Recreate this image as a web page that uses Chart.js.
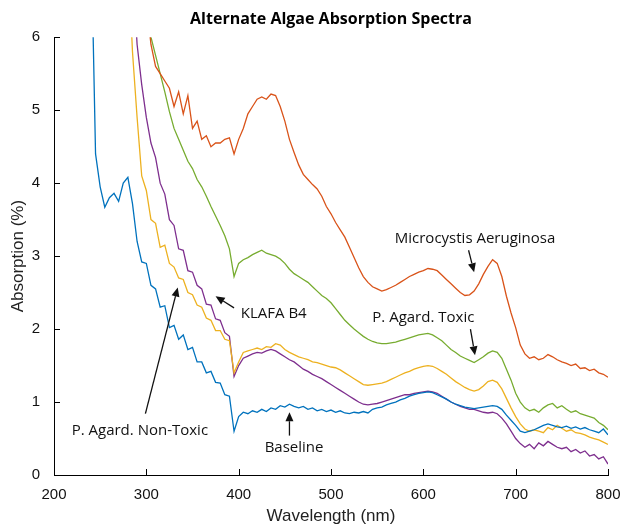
<!DOCTYPE html>
<html>
<head>
<meta charset="utf-8">
<script src="https://cdn.jsdelivr.net/npm/chart.js@4"></script>
<style>
  html, body { margin: 0; padding: 0; background: #fff; }
  #wrap { width: 620px; height: 529px; }
</style>
</head>
<body>
<div id="wrap"><canvas id="spectra"></canvas></div>
<script>
// wavelength grid (nm), 5 nm steps
const wavelengths = [
  240, 245, 250, 255, 260, 265, 270, 275, 280, 285,
  290, 295, 300, 305, 310, 315, 320, 325, 330, 335,
  340, 345, 350, 355, 360, 365, 370, 375, 380, 385,
  390, 395, 400, 405, 410, 415, 420, 425, 430, 435,
  440, 445, 450, 455, 460, 465, 470, 475, 480, 485,
  490, 495, 500, 505, 510, 515, 520, 525, 530, 535,
  540, 545, 550, 555, 560, 565, 570, 575, 580, 585,
  590, 595, 600, 605, 610, 615, 620, 625, 630, 635,
  640, 645, 650, 655, 660, 665, 670, 675, 680, 685,
  690, 695, 700, 705, 710, 715, 720, 725, 730, 735,
  740, 745, 750, 755, 760, 765, 770, 775, 780, 785,
  790, 795, 800
];

// absorption (%), null where the trace is not shown
const baseline = [
  7.5, 4.4, 3.95, 3.67, 3.8, 3.86, 3.75, 4.0, 4.08, 3.72,
  3.2, 2.92, 2.9, 2.6, 2.55, 2.3, 2.32, 2.02, 2.05, 1.86,
  1.92, 1.72, 1.75, 1.55, 1.55, 1.4, 1.42, 1.27, 1.26, 1.1,
  1.08, 0.6, 0.8, 0.86, 0.84, 0.88, 0.86, 0.9, 0.87, 0.92,
  0.9, 0.95, 0.93, 0.97, 0.94, 0.92, 0.94, 0.9, 0.92, 0.88,
  0.9, 0.87, 0.89, 0.86, 0.88, 0.85, 0.84, 0.86, 0.85, 0.87,
  0.85, 0.9, 0.92, 0.93, 0.96, 0.98, 1.0, 1.03, 1.05, 1.08,
  1.1, 1.12, 1.13, 1.14, 1.13, 1.1, 1.07, 1.04, 1.0, 0.97,
  0.95, 0.93, 0.92, 0.91, 0.92, 0.93, 0.94, 0.95, 0.94, 0.9,
  0.82, 0.75, 0.68, 0.6, 0.58, 0.6, 0.62, 0.65, 0.68, 0.7,
  0.68, 0.66, 0.65, 0.67, 0.64, 0.66, 0.63, 0.65, 0.62, 0.6,
  0.58, 0.63, 0.55
];

const microcystis = [
  null, null, null, null, null, null, null, null, null, null,
  null, null, 6.5, 5.9, 5.6, 5.5, 5.4, 5.3, 5.05, 5.25,
  4.95, 5.2, 4.75, 4.85, 4.6, 4.65, 4.5, 4.55, 4.55, 4.6,
  4.62, 4.4, 4.6, 4.75, 4.95, 5.05, 5.15, 5.18, 5.15, 5.22,
  5.2, 5.05, 4.85, 4.6, 4.42, 4.25, 4.12, 4.05, 3.98, 3.92,
  3.82, 3.68, 3.58, 3.46, 3.36, 3.26, 3.12, 2.98, 2.84, 2.72,
  2.64, 2.58, 2.55, 2.52, 2.54, 2.57, 2.6, 2.64, 2.68, 2.72,
  2.75, 2.78, 2.8, 2.83, 2.82, 2.8, 2.74, 2.68, 2.62, 2.56,
  2.5, 2.46, 2.47, 2.52, 2.62, 2.75, 2.86, 2.95, 2.9, 2.72,
  2.45, 2.22, 2.02, 1.78, 1.66, 1.6, 1.62, 1.58, 1.6, 1.65,
  1.62, 1.58, 1.55, 1.53, 1.5, 1.52, 1.46, 1.47, 1.43, 1.45,
  1.4, 1.38, 1.34
];

const agardToxic = [
  null, null, null, null, null, null, null, null, null, null,
  null, null, 6.5, 6.0, 5.75, 5.5, 5.25, 4.98, 4.75, 4.6,
  4.45, 4.3, 4.2, 4.05, 3.95, 3.82, 3.68, 3.55, 3.42, 3.28,
  3.1, 2.72, 2.9, 2.95, 2.98, 3.02, 3.05, 3.08, 3.04, 3.02,
  3.0, 2.96, 2.9, 2.82, 2.76, 2.72, 2.68, 2.64, 2.58, 2.52,
  2.46, 2.42, 2.36, 2.28, 2.2, 2.12, 2.06, 2.0, 1.95, 1.9,
  1.86, 1.83, 1.81, 1.8, 1.8, 1.81, 1.82, 1.84, 1.86, 1.88,
  1.9, 1.92, 1.93, 1.94, 1.92, 1.88, 1.84, 1.78, 1.72, 1.68,
  1.63, 1.6, 1.57, 1.54, 1.58, 1.62, 1.67, 1.7, 1.68, 1.6,
  1.45, 1.3, 1.12, 1.0, 0.92, 0.88, 0.9, 0.86, 0.92, 0.96,
  0.98, 0.92, 0.95, 0.9, 0.86, 0.88, 0.84, 0.82, 0.8, 0.78,
  0.72, 0.68, 0.62
];

const agardNonToxic = [
  null, null, null, null, null, null, null, null, 7.2, 5.8,
  4.9, 4.1, 3.9, 3.5, 3.45, 3.12, 3.15, 2.9, 2.85, 2.7,
  2.68, 2.5, 2.47, 2.33, 2.3, 2.15, 2.12, 1.98, 1.98, 1.86,
  1.84, 1.4, 1.55, 1.68, 1.7, 1.72, 1.74, 1.72, 1.76, 1.75,
  1.8, 1.78, 1.72, 1.68, 1.65, 1.62, 1.6, 1.58, 1.55, 1.54,
  1.52, 1.5, 1.48, 1.47, 1.44, 1.4, 1.36, 1.32, 1.28, 1.24,
  1.23, 1.24, 1.25, 1.26, 1.28, 1.31, 1.34, 1.37, 1.4, 1.42,
  1.45, 1.47, 1.49, 1.5, 1.49, 1.46, 1.42, 1.38, 1.33, 1.28,
  1.24, 1.2, 1.17, 1.15, 1.17, 1.22, 1.28, 1.3, 1.27, 1.18,
  1.05, 0.92, 0.8, 0.7, 0.63, 0.6, 0.62, 0.6, 0.58, 0.65,
  0.62, 0.68, 0.64, 0.6, 0.62, 0.58, 0.57, 0.55, 0.52, 0.5,
  0.48, 0.45, 0.42
];

const klafaB4 = [
  null, null, null, null, null, null, null, null, null, 7.0,
  5.9, 5.35, 4.9, 4.55, 4.35, 4.0, 3.85, 3.5, 3.42, 3.1,
  3.08, 2.8, 2.78, 2.6, 2.55, 2.34, 2.33, 2.14, 2.12, 1.95,
  1.9, 1.35, 1.5, 1.6, 1.63, 1.66, 1.68, 1.67, 1.7, 1.72,
  1.7, 1.66, 1.62, 1.58, 1.55, 1.5, 1.45, 1.42, 1.38, 1.35,
  1.32, 1.28, 1.24, 1.2, 1.16, 1.12, 1.08, 1.04, 1.0, 0.97,
  0.96, 0.97, 0.98, 1.0, 1.02, 1.04, 1.06, 1.08, 1.1, 1.1,
  1.12, 1.13, 1.14, 1.15, 1.14, 1.12, 1.08, 1.04, 1.0, 0.97,
  0.94, 0.92, 0.9, 0.9, 0.88, 0.86, 0.85, 0.86, 0.84, 0.78,
  0.7, 0.6, 0.5, 0.43, 0.38, 0.42, 0.36, 0.44, 0.4, 0.46,
  0.42, 0.38, 0.36, 0.38, 0.32, 0.35, 0.3, 0.33, 0.26, 0.28,
  0.22, 0.25, 0.15
];

const xTicks = [200, 300, 400, 500, 600, 700, 800];
const yTicks = [0, 1, 2, 3, 4, 5, 6];

// labels with arrows, given in wavelength / absorption
const notes = [
  { text: 'Microcystis Aeruginosa', at: [656, 3.24], from: [649, 3.08], to: [655, 2.78] },
  { text: 'P. Agard. Toxic',        at: [600, 2.16], from: [651, 2.0],  to: [656, 1.64] },
  { text: 'KLAFA B4',               at: [438, 2.21], from: [395, 2.29], to: [375, 2.45] },
  { text: 'P. Agard. Non-Toxic',    at: [293, 0.6],  from: [299, 0.84], to: [334, 2.57] },
  { text: 'Baseline',               at: [460, 0.37], from: [455, 0.54], to: [455, 0.86] }
];

const series = [
  { label: 'Baseline',               values: baseline,      color: '#0072BD' },
  { label: 'Microcystis Aeruginosa', values: microcystis,   color: '#D95319' },
  { label: 'P. Agard. Non-Toxic',    values: agardNonToxic, color: '#EDB120' },
  { label: 'KLAFA B4',               values: klafaB4,       color: '#7E2F8E' },
  { label: 'P. Agard. Toxic',        values: agardToxic,    color: '#77AC30' }
];

const inwardTicks = {
  id: 'inwardTicks',
  afterDatasetsDraw(chart) {
    const { ctx, chartArea: a, scales: { x, y } } = chart;
    ctx.save();
    ctx.strokeStyle = '#000';
    ctx.lineWidth = 1;
    ctx.beginPath();
    xTicks.forEach(v => {
      const px = Math.round(x.getPixelForValue(v)) + 0.5;
      ctx.moveTo(px, a.bottom);
      ctx.lineTo(px, a.bottom - 6);
    });
    yTicks.forEach(v => {
      const py = Math.round(y.getPixelForValue(v)) + 0.5;
      ctx.moveTo(a.left, py);
      ctx.lineTo(a.left + 6, py);
    });
    ctx.stroke();
    ctx.restore();
  }
};

const arrowNotes = {
  id: 'arrowNotes',
  afterDatasetsDraw(chart) {
    const { ctx, scales: { x, y } } = chart;
    ctx.save();
    ctx.fillStyle = '#111';
    ctx.strokeStyle = '#111';
    ctx.lineWidth = 1.3;
    ctx.font = '15px "Open Sans"';
    ctx.textAlign = 'center';
    ctx.textBaseline = 'middle';
    notes.forEach(n => {
      ctx.fillText(n.text, x.getPixelForValue(n.at[0]), y.getPixelForValue(n.at[1]));
      const x0 = x.getPixelForValue(n.from[0]), y0 = y.getPixelForValue(n.from[1]);
      const x1 = x.getPixelForValue(n.to[0]),   y1 = y.getPixelForValue(n.to[1]);
      const ang = Math.atan2(y1 - y0, x1 - x0);
      const head = 9, half = 4;
      const bx = x1 - head * Math.cos(ang), by = y1 - head * Math.sin(ang);
      ctx.beginPath();
      ctx.moveTo(x0, y0);
      ctx.lineTo(bx, by);
      ctx.stroke();
      ctx.beginPath();
      ctx.moveTo(x1, y1);
      ctx.lineTo(bx + half * Math.sin(ang), by - half * Math.cos(ang));
      ctx.lineTo(bx - half * Math.sin(ang), by + half * Math.cos(ang));
      ctx.closePath();
      ctx.fill();
    });
    ctx.restore();
  }
};

new Chart(document.getElementById('spectra'), {
  type: 'line',
  data: {
    datasets: series.map(s => ({
      label: s.label,
      data: wavelengths.map((w, i) => ({ x: w, y: s.values[i] })),
      borderColor: s.color,
      borderWidth: 1.3,
      pointRadius: 0,
      tension: 0,
      spanGaps: false
    }))
  },
  options: {
    responsive: true,
    maintainAspectRatio: false,
    animation: false,
    layout: { padding: { left: 4, right: 0, top: 0, bottom: 2 } },
    plugins: {
      legend: { display: false },
      tooltip: { enabled: false },
      title: {
        display: true,
        fullSize: false,
        text: 'Alternate Algae Absorption Spectra',
        color: '#000',
        font: { family: '"Open Sans"', size: 16, weight: 'bold' },
        padding: { top: 10, bottom: 8 }
      }
    },
    scales: {
      x: {
        type: 'linear',
        min: 200,
        max: 800,
        afterBuildTicks: s => { s.ticks = xTicks.map(v => ({ value: v })); },
        afterFit: s => { s.height = 52; s.paddingRight = 12; },
        grid: { display: false },
        border: { display: true, color: '#000', width: 1 },
        ticks: { color: '#111', padding: 3, maxRotation: 0, font: { family: '"Liberation Sans", Arial', size: 15 } },
        title: {
          display: true,
          text: 'Wavelength (nm)',
          color: '#222',
          padding: { top: 2, bottom: 0 },
          font: { family: '"Liberation Sans", Arial', size: 17 }
        }
      },
      y: {
        min: 0,
        max: 6,
        afterBuildTicks: s => { s.ticks = yTicks.map(v => ({ value: v })); },
        afterFit: s => { s.width = 50; },
        grid: { display: false },
        border: { display: true, color: '#000', width: 1 },
        ticks: { color: '#111', padding: 6, font: { family: '"Liberation Sans", Arial', size: 15 } },
        title: {
          display: true,
          text: 'Absorption (%)',
          color: '#222',
          padding: { top: 4, bottom: 4 },
          font: { family: '"Liberation Sans", Arial', size: 17 }
        }
      }
    }
  },
  plugins: [inwardTicks, arrowNotes]
});
</script>
</body>
</html>
